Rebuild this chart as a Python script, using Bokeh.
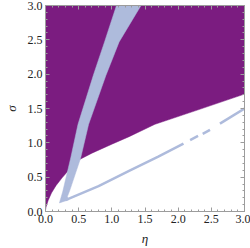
from bokeh.plotting import figure
from bokeh.models import LinearAxis, SingleIntervalTicker, PrintfTickFormatter, Range1d
from bokeh.embed import file_html
from bokeh.resources import INLINE

# purple region lower boundary (eta, sigma), left to right
boundary_eta = [0.0, 0.01, 0.04, 0.09, 0.16, 0.25, 0.33, 0.41, 0.50, 0.70, 1.00, 1.26, 1.65, 2.30, 3.00]
boundary_sigma = [0.02, 0.07, 0.16, 0.27, 0.38, 0.49, 0.58, 0.68, 0.75, 0.85, 0.98, 1.09, 1.27, 1.48, 1.71]

# light-blue band edges (top to bottom on left, bottom to top on right)
band_left_eta = [1.07, 0.89, 0.72, 0.49, 0.38, 0.26, 0.21]
band_left_sigma = [3.00, 2.47, 1.98, 1.27, 0.78, 0.29, 0.125]
band_right_eta = [0.35, 0.33, 0.36, 0.53, 0.65, 0.91, 1.11, 1.44]
band_right_sigma = [0.17, 0.22, 0.29, 0.78, 1.27, 1.98, 2.47, 3.00]

# thin lower branch, broken into pieces
branch_eta = [[0.30, 0.80, 1.26, 1.70, 2.08], [2.18, 2.30], [2.37, 2.48], [2.63, 3.00]]
branch_sigma = [[0.165, 0.37, 0.59, 0.80, 0.99], [1.04, 1.10], [1.13, 1.19], [1.28, 1.50]]

x_title = "η"
y_title = "σ"
ticks_major = 0.5
purple = "#7b1c80"
lightblue = "#aebbdc"
frame_col = "#9c9c9c"
font = "Liberation Serif"

p = figure(width=250, height=248, output_backend="svg", toolbar_location=None,
           x_range=Range1d(0, 3), y_range=Range1d(0, 3),
           x_axis_location=None, y_axis_location=None,
           min_border_left=39, min_border_right=6, min_border_top=5, min_border_bottom=36)
p.grid.visible = False
p.outline_line_color = None
p.background_fill_color = "white"

poly_x = [0.0, 3.0] + boundary_eta[::-1]
poly_y = [3.0, 3.0] + boundary_sigma[::-1]
p.patch(poly_x, poly_y, fill_color=purple, line_color=purple, line_width=0.5)

p.patch(band_left_eta + band_right_eta, band_left_sigma + band_right_sigma,
        fill_color=lightblue, line_color=lightblue, line_width=0.5)
p.multi_line(branch_eta, branch_sigma, line_color=lightblue, line_width=2.5)

def make_axis(title):
    ax = LinearAxis(ticker=SingleIntervalTicker(interval=ticks_major, num_minor_ticks=5),
                    formatter=PrintfTickFormatter(format="%.1f"))
    ax.axis_line_color = frame_col
    ax.major_tick_line_color = frame_col
    ax.minor_tick_line_color = frame_col
    ax.major_tick_in = 4
    ax.major_tick_out = 0
    ax.minor_tick_in = 2
    ax.minor_tick_out = 0
    if title is not None:
        ax.axis_label = title
        ax.major_label_text_font = font
        ax.major_label_text_font_size = "12px"
        ax.major_label_text_color = "#222222"
        ax.major_label_standoff = 3
        ax.axis_label_text_font = font
        ax.axis_label_text_font_style = "italic"
        ax.axis_label_text_font_size = "13px"
        ax.axis_label_text_color = "#222222"
        ax.axis_label_standoff = 5
    else:
        ax.major_label_text_color = None
        ax.major_label_text_font_size = "1px"
        ax.major_label_standoff = 0
    return ax

p.add_layout(make_axis(x_title), "below")
ly = make_axis(y_title)
ly.axis_label_standoff = 6
p.add_layout(ly, "left")
p.add_layout(make_axis(None), "above")
p.add_layout(make_axis(None), "right")

open("out.html", "w").write(file_html(p, INLINE))
